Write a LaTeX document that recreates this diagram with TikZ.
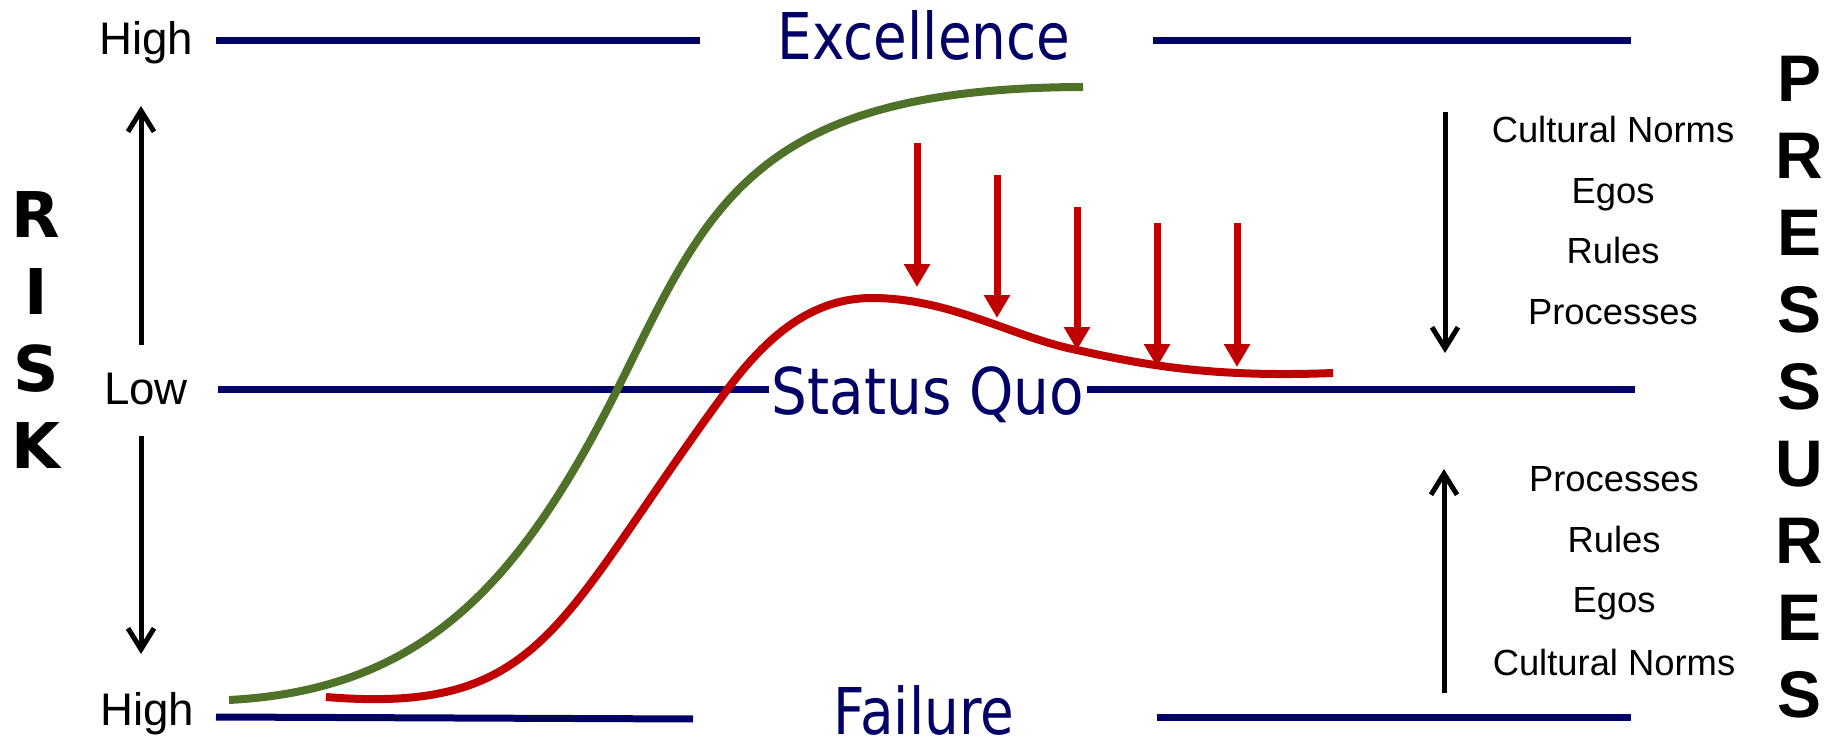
\documentclass[tikz,border=0pt]{standalone}
\usepackage{fontspec}
\setmainfont{Liberation Sans}
\newfontfamily\tahoma[FakeStretch=0.85]{DejaVu Sans}
\newfontfamily\tahomaw[FakeStretch=0.875]{DejaVu Sans}
\newfontfamily\verdana{DejaVu Sans}
\usetikzlibrary{arrows.meta}
\definecolor{mynavy}{RGB}{0,0,102}
\definecolor{mygreen}{RGB}{79,113,40}
\definecolor{myred}{RGB}{192,0,0}
\begin{document}
\begin{tikzpicture}[x=0.02cm,y=-0.02cm,
  lvl/.style={line width=0.14cm, draw=mynavy},
  big/.style={font=\tahoma\fontsize{36.7}{40}\selectfont, text=mynavy, inner sep=0pt, anchor=base},
  lab/.style={font=\fontsize{26}{30}\selectfont, inner sep=0pt, anchor=base},
  riskl/.style={font=\verdana\bfseries\fontsize{35.9}{40}\selectfont, inner sep=0pt, anchor=base},
  presl/.style={font=\bfseries\fontsize{37.5}{40}\selectfont, inner sep=0pt, anchor=base},
  rt/.style={font=\fontsize{20.7}{24}\selectfont, inner sep=0pt, anchor=base},
  blk/.style={line width=0.1cm, draw=black, -{Straight Barb[length=0.42cm,width=0.52cm]}},
  redarr/.style={line width=0.14cm, draw=myred, -{Triangle[length=0.46cm,width=0.5cm]}},
  curve/.style={line width=0.16cm}
]
\useasboundingbox (0,0) rectangle (1836,739);

% level lines
\draw[lvl] (216,41) -- (700,41);
\draw[lvl] (1153,41) -- (1631,41);
\draw[lvl] (218,390) -- (1635,390);
\draw[lvl] (216,717) -- (693,719);
\draw[lvl] (1157,717) -- (1631,717);

% level labels
\node[big] (exc) at (924,60) {Excellence};
\node[big, font=\tahomaw\fontsize{36.7}{40}\selectfont, fill=white, inner xsep=0.06cm] (sq) at (928,415) {Status Quo};
\node[big] (fail) at (924,734) {Failure};

% left labels
\node[lab] (hi1) at (146,55) {High};
\node[lab] (low) at (146,405) {Low};
\node[lab] (hi2) at (147,725) {High};

% RISK
\node[riskl] (rR) at (36,237.5) {R};
\node[riskl] (rI) at (36,314.5) {I};
\node[riskl] (rS) at (36,391.5) {S};
\node[riskl] (rK) at (36,468.5) {K};

% PRESSURES
\node[presl] (p1) at (1799,102) {P};
\node[presl] (p2) at (1799,178.9) {R};
\node[presl] (p3) at (1799,255.8) {E};
\node[presl] (p4) at (1799,332.7) {S};
\node[presl] (p5) at (1799,409.6) {S};
\node[presl] (p6) at (1799,486.5) {U};
\node[presl] (p7) at (1799,563.4) {R};
\node[presl] (p8) at (1799,640.3) {E};
\node[presl] (p9) at (1799,717.2) {S};

% right texts
\node[rt] (t1) at (1613,143) {Cultural Norms};
\node[rt] (t2) at (1613,204) {Egos};
\node[rt] (t3) at (1613,264) {Rules};
\node[rt] (t4) at (1613,325) {Processes};
\node[rt] (b1) at (1614,492) {Processes};
\node[rt] (b2) at (1614,553) {Rules};
\node[rt] (b3) at (1614,613) {Egos};
\node[rt] (b4) at (1614,675) {Cultural Norms};

% black arrows
\coordinate (lu1) at (141,345);
\coordinate (lu2) at (141,106);
\coordinate (ld1) at (141,436);
\coordinate (ld2) at (141,654);
\coordinate (rd1) at (1445,112);
\coordinate (rd2) at (1445,353);
\coordinate (ru1) at (1444,693);
\coordinate (ru2) at (1444,469);
\draw[blk] (lu1) -- (lu2);
\draw[blk] (ld1) -- (ld2);
\draw[blk] (rd1) -- (rd2);
\draw[blk] (ru1) -- (ru2);

% green curve
\draw[curve, mygreen] (229,700) .. controls (420,690) and (518,588) .. (618,388)
  .. controls (708,208) and (750,88) .. (1083,87);

% red curve
\draw[curve, myred] (326,697) .. controls (546,715) and (557,620) .. (727,390)
  .. controls (767,336) and (812,298) .. (872,298)
  .. controls (950,298) and (1015,338) .. (1077,350)
  .. controls (1140,364) and (1210,378) .. (1333,373);

% red arrows
\coordinate (a1s) at (917,143);  \coordinate (a1e) at (917,287);
\coordinate (a2s) at (997,175);  \coordinate (a2e) at (997,318);
\coordinate (a3s) at (1077,207); \coordinate (a3e) at (1077,350);
\coordinate (a4s) at (1157,223); \coordinate (a4e) at (1157,367);
\coordinate (a5s) at (1237,223); \coordinate (a5e) at (1237,367);
\draw[redarr] (a1s) -- (a1e);
\draw[redarr] (a2s) -- (a2e);
\draw[redarr] (a3s) -- (a3e);
\draw[redarr] (a4s) -- (a4e);
\draw[redarr] (a5s) -- (a5e);
\end{tikzpicture}
\end{document}
